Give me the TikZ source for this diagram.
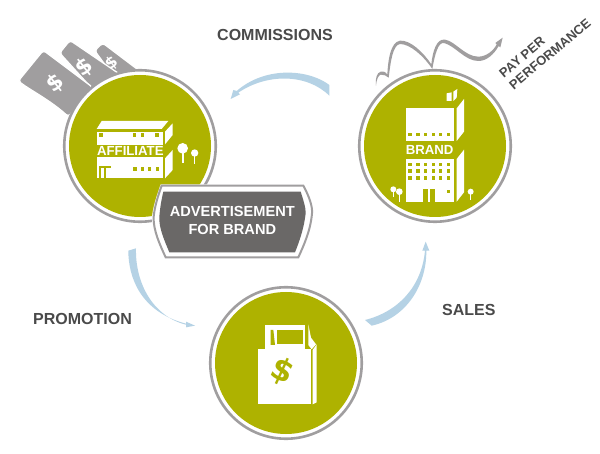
\documentclass[tikz,border=0pt]{standalone}
\usepackage{fontspec}
\setmainfont{Liberation Sans}
\newfontfamily\moneyface{DejaVu Sans}
\definecolor{olive}{HTML}{AEB200}
\definecolor{ringgray}{HTML}{A09E9F}
\definecolor{slab}{HTML}{6A6867}
\definecolor{ink}{HTML}{4A4A4A}
\definecolor{sky}{HTML}{B5D2E5}
\tikzset{
  disc/.style={circle,draw=ringgray,line width=2.6pt,fill=white,minimum size=151.5pt,inner sep=0pt,outer sep=0pt},
  core/.style={circle,fill=olive,minimum size=142pt,inner sep=0pt,outer sep=0pt},
  caption/.style={font=\bfseries\fontsize{16}{19}\selectfont,text=ink,inner sep=0pt},
  sign/.style={font=\bfseries\fontsize{13.2}{15}\selectfont,text=white,inner sep=0pt},
  note/.style={fill=ringgray,draw=white,line width=1.3pt,rounded corners=3pt},
  swoosh/.style={fill=sky,draw=none},
  wall/.style={fill=white,draw=none},
  pane/.style={fill=olive,draw=none},
  zoomed/.style={x=0.33333pt,y=-0.33333pt},
}
\begin{document}
\begin{tikzpicture}[x=1pt,y=-1pt]
\useasboundingbox (0,0) rectangle (600,454);
\fill[white] (0,0) rectangle (600,454);

% banknotes behind the affiliate disc
\begin{scope}[shift={(10,35)},zoomed]
  \path[note] (278,24) -- (254,47) -- (330,150) -- (385,105) -- cycle;
  \node[font=\moneyface\bfseries\fontsize{16}{16}\selectfont,text=white,rotate=38] (dollarc) at (305,85) {\$};
  \path[note] (180,16) -- (149,54) -- (250,165) -- (340,125) -- cycle;
  \node[font=\moneyface\bfseries\fontsize{22}{22}\selectfont,text=white,rotate=38] (dollarb) at (224,97) {\$};
  \path[note] (100,46) -- (25,138) .. controls (60,165) and (120,195) .. (175,245) -- (248,157) -- cycle;
  \node[font=\moneyface\bfseries\fontsize{22}{22}\selectfont,text=white,rotate=38] (dollara) at (137,145) {\$};
\end{scope}

% swirl rising from the brand disc
\begin{scope}[shift={(370,25)},zoomed]
  \fill[ringgray] (18,182) .. controls (15,160) and (21,143) .. (32,140)
    .. controls (42,138) and (50,143) .. (52,148)
    .. controls (54,110) and (60,52) .. (90,47)
    .. controls (120,44) and (160,82) .. (184,118)
    .. controls (188,78) and (200,40) .. (225,44)
    .. controls (255,48) and (285,95) .. (325,95)
    .. controls (350,95) and (372,75) .. (380,58)
    -- (376,54) -- (398,38) -- (391,67) -- (386,63)
    .. controls (372,88) and (350,108) .. (325,108)
    .. controls (285,108) and (255,62) .. (222,54)
    .. controls (205,51) and (195,85) .. (187,132)
    .. controls (160,92) and (120,57) .. (90,57)
    .. controls (68,60) and (62,110) .. (56,158)
    .. controls (50,151) and (40,149) .. (32,149)
    .. controls (26,151) and (20,160) .. (18,182) -- cycle;
\end{scope}

% discs
\node[disc] (affiliateDisc) at (140,146) {};
\node[core] (affiliateCore) at (140,146) {};
\node[disc] (brandDisc) at (435,146) {};
\node[core] (brandCore) at (435,146) {};
\node[disc] (shopDisc) at (286,363) {};
\node[core] (shopCore) at (286,363) {};

% affiliate building
\begin{scope}[shift={(90,115)},zoomed]
  \fill[wall] (35,18) -- (235,18) -- (215,42) -- (20,42) -- cycle;
  \fill[wall] (20,50) rectangle (218,90);
  \fill[wall] (225,50) -- (248,25) -- (248,60) -- (225,88) -- cycle;
  \foreach \wx in {28,128,152,196} \fill[pane] (\wx,55) rectangle +(11,10);
  \fill[wall] (20,126) rectangle (218,190);
  \fill[wall] (225,130) -- (248,105) -- (248,165) -- (225,190) -- cycle;
  \fill[pane] (28,152) rectangle (63,158);
  \fill[pane] (28,152) rectangle (33,190);
  \fill[pane] (43,152) rectangle (47,190);
  \foreach \wx in {130,152,174,197} \fill[pane] (\wx,157) rectangle +(10,10);
  \fill[wall] (278,100) circle[radius=16];
  \fill[wall] (277,110) rectangle (283,145);
  \fill[wall] (314,114) circle[radius=11];
  \fill[wall] (312,120) rectangle (316,147);
  \node[sign] (affiliateName) at (121,107) {AFFILIATE};
\end{scope}

% brand tower
\begin{scope}[shift={(385,85)},zoomed]
  \fill[wall] (63,70) rectangle (207,168);
  \fill[wall] (215,70) -- (237,42) -- (237,140) -- (215,168) -- cycle;
  \fill[wall] (185,25) -- (200,22) -- (200,48) -- (185,48) -- cycle;
  \fill[wall] (205,20) -- (217,12) -- (215,38) -- (205,48) -- cycle;
  \fill[wall] (63,222) rectangle (207,350);
  \fill[wall] (215,222) -- (237,194) -- (237,322) -- (215,350) -- cycle;
  \foreach \wx in {70,94,117,140,162,185} {
    \fill[pane] (\wx,143) rectangle +(10,10);
    \fill[pane] (\wx,234) rectangle +(10,10);
    \fill[pane] (\wx,253) rectangle +(10,10);
    \fill[pane] (\wx,274) rectangle +(10,10);
  }
  \fill[pane] (113,313) rectangle (150,350);
  \fill[wall] (130,313) rectangle (134,350);
  \fill[pane] (185,316) rectangle (195,324);
  \fill[wall] (25,313) circle[radius=9];
  \fill[wall] (24,318) rectangle (28,335);
  \fill[wall] (43,320) circle[radius=10];
  \fill[wall] (41,325) rectangle (45,350);
  \fill[wall] (257,320) circle[radius=9];
  \fill[wall] (255,325) rectangle (259,344);
  \node[sign] (brandName) at (134,196) {BRAND};
\end{scope}

% shopping bag
\begin{scope}[shift={(250,315)},zoomed]
  \fill[wall] (45,30) rectangle (165,105);
  \fill[pane] (80,45) rectangle (160,88);
  \fill[pane] (62,45) -- (70,45) -- (75,90) -- (62,90) -- cycle;
  \fill[wall] (175,28) -- (183,68) -- (198,88) -- (185,103) -- (175,90) -- cycle;
  \fill[wall] (25,103) rectangle (183,268);
  \fill[wall] (188,105) -- (200,88) -- (200,262) -- (188,268) -- cycle;
  \node[font=\moneyface\bfseries\fontsize{31}{31}\selectfont,text=olive,rotate=-25,inner sep=0pt] (bagDollar) at (98,170) {\$};
\end{scope}

% advertisement plate
\begin{scope}[shift={(120,180)},zoomed]
  \fill[white] (122,13) -- (553,13) .. controls (572,50) and (584,80) .. (582,100) .. controls (577,150) and (556,197) .. (538,236) -- (134,236) .. controls (118,197) and (94,150) .. (96,110) .. controls (99,80) and (109,50) .. (122,13) -- cycle;
  \draw[ringgray,line width=2pt,fill=white] (125,17) -- (550,17) .. controls (568,50) and (578,80) .. (576,100) .. controls (572,150) and (552,195) .. (535,232) -- (137,232) .. controls (120,195) and (99,150) .. (101,110) .. controls (104,80) and (113,50) .. (125,17) -- cycle;
  \fill[slab] (130,35) -- (542,35) .. controls (550,60) and (558,85) .. (557,100) .. controls (552,145) and (538,185) .. (525,217) -- (148,217) .. controls (135,185) and (116,145) .. (118,110) .. controls (120,85) and (124,60) .. (130,35) -- cycle;
  \node[font=\bfseries\fontsize{14.6}{18}\selectfont,text=white,align=center,inner sep=0pt] (adText) at (337,120) {ADVERTISEMENT\\FOR BRAND};
\end{scope}

% crescent arrows between the discs
\begin{scope}[shift={(210,60)},zoomed]
  \fill[swoosh] (358,75) .. controls (300,30) and (170,15) .. (80,93) -- (70,90) -- (62,117) -- (90,103) -- (85,98) .. controls (170,40) and (290,40) .. (358,107) -- cycle;
\end{scope}
\begin{scope}[shift={(120,180)},zoomed]
  \fill[swoosh] (25,212) .. controls (25,290) and (60,395) .. (198,431) -- (198,425) -- (225,437) -- (198,442) -- (198,434) .. controls (100,410) and (45,310) .. (48,205) -- cycle;
\end{scope}
\begin{scope}[shift={(205,240)},zoomed]
  \fill[swoosh] (500,257) .. controls (600,235) and (665,140) .. (664,32) -- (673,32) -- (662,5) -- (652,32) -- (660,32) .. controls (650,140) and (580,215) .. (480,240) -- cycle;
\end{scope}

% captions
\node[caption,anchor=west] (commissions) at (217,34.5) {COMMISSIONS};
\node[caption,anchor=west] (promotion) at (33,319) {PROMOTION};
\node[caption,anchor=west] (sales) at (442,310) {SALES};
\node[font=\bfseries\fontsize{13}{15.5}\selectfont,text=ink,rotate=40,align=left,inner sep=0pt] (payPer) at (545,48) {PAY PER\\PERFORMANCE};
\end{tikzpicture}
\end{document}
